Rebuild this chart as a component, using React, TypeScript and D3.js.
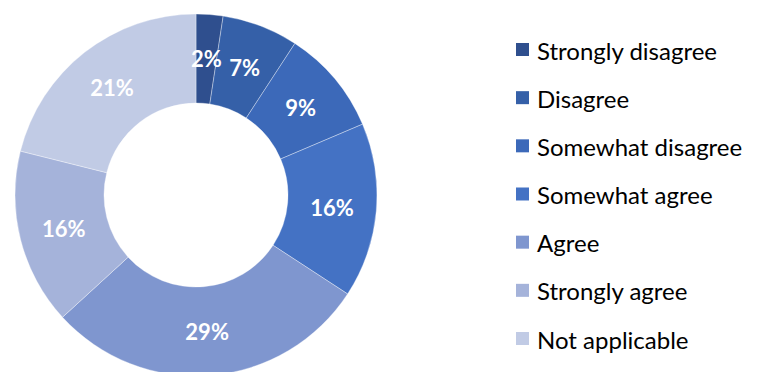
import React from "react";
import * as d3 from "d3";

const categories = [
  "Strongly disagree",
  "Disagree",
  "Somewhat disagree",
  "Somewhat agree",
  "Agree",
  "Strongly agree",
  "Not applicable",
];
const values = [2.4, 6.8, 9.4, 15.6, 29.0, 15.7, 21.1];
const colors = ["#2F4F8E", "#3560A8", "#3C69B9", "#4472C4", "#7F96CF", "#A5B3DA", "#C1CBE5"];

const W = 764;
const H = 372;
const cx = 196;
const cy = 195;
const outerR = 181;
const innerR = 92;
const font = "Lato, 'Open Sans', sans-serif";

export default function App() {
  const pie = d3.pie<number>().sort(null).value((d) => d)(values);
  const arc = d3.arc<d3.PieArcDatum<number>>().innerRadius(innerR).outerRadius(outerR);
  const total = d3.sum(values);
  const legendY = d3.scalePoint<string>().domain(categories).range([50, 339]);

  return (
    <svg width={W} height={H} style={{ position: "absolute", left: 0, top: 0 }}>
      <rect width={W} height={H} fill="#ffffff" />
      <g transform={`translate(${cx},${cy})`}>
        {pie.map((p, i) => (
          <path key={i} d={arc(p) || ""} fill={colors[i]} stroke="#ffffff" strokeWidth={0.5} strokeOpacity={0.7} />
        ))}
        {pie.map((p, i) => {
          const [x, y] = arc.centroid(p);
          return (
            <text
              key={"l" + i}
              x={x}
              y={y}
              textAnchor="middle"
              dominantBaseline="central"
              fill="#ffffff"
              fontFamily={font}
              fontWeight="bold"
              fontSize={22}
            >
              {Math.round((values[i] / total) * 100) + "%"}
            </text>
          );
        })}
      </g>
      {categories.map((c, i) => {
        const y = legendY(c) as number;
        return (
          <g key={"g" + i}>
            <rect x={516} y={y - 7} width={13} height={13} fill={colors[i]} />
            <text
              x={537}
              y={y}
              dominantBaseline="central"
              fill="#000000"
              fontFamily={font}
              fontSize={24}
            >
              {c}
            </text>
          </g>
        );
      })}
    </svg>
  );
}
